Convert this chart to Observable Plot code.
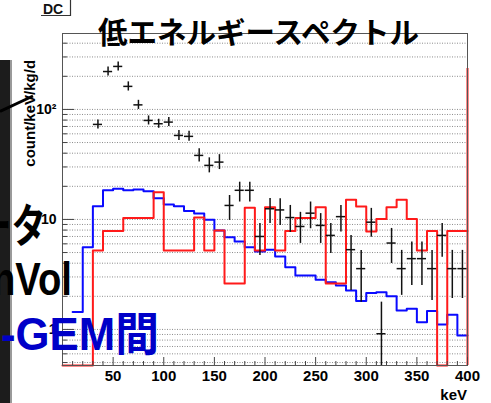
<!DOCTYPE html>
<html>
<head>
<meta charset="utf-8">
<script src="https://cdn.jsdelivr.net/npm/d3@7"></script>
<script src="https://cdn.jsdelivr.net/npm/@observablehq/plot@0.6"></script>
<style>
  html, body { margin: 0; padding: 0; background: #fff; }
  #wrap { position: relative; width: 491px; height: 403px; overflow: hidden; background: #fff; }
  #wrap svg.overlay { position: absolute; left: 0; top: 0; pointer-events: none; }
</style>
</head>
<body>
<div id="wrap"></div>
<script>
// ---- Axes ----
const xDomain = [0, 400];          // keV
const yDomain = [0.47, 490];       // count/keV/kg/d (log)
const xMajorTicks = [50, 100, 150, 200, 250, 300, 350, 400];
const xMinorTicks = [10, 20, 30, 40, 60, 70, 80, 90, 110, 120, 130, 140, 160, 170, 180, 190,
  210, 220, 230, 240, 260, 270, 280, 290, 310, 320, 330, 340, 360, 370, 380, 390];
const yMajorTicks = [1, 10, 100];
const yTickLabels = ["1", "10", "10²"];
const yMinorTicks = [0.5, 0.6, 0.7, 0.8, 0.9, 2, 3, 4, 5, 6, 7, 8, 9,
  20, 30, 40, 50, 60, 70, 80, 90, 200, 300, 400];

// ---- Histogram bins (10 keV wide, lower edges) ----
const binWidth = 10;
const binLow = [0, 10, 20, 30, 40, 50, 60, 70, 80, 90, 100, 110, 120, 130, 140, 150, 160, 170, 180, 190,
  200, 210, 220, 230, 240, 250, 260, 270, 280, 290, 300, 310, 320, 330, 340, 350, 360, 370, 380, 390];

// Simulation (red)
const redCounts = [0, 0, 0, 5.23, 7.83, 7.83, 10.3, 10.3, 10.3, 17.7,
  5.23, 5.23, 5.23, 10.4, 5.23, 7.94, 2.61, 2.61, 12.8, 5.23,
  12.9, 5.23, 7.83, 10.3, 10.3, 12.9, 2.61, 2.61, 15.1, 13.1,
  7.78, 10.1, 12.9, 15.1, 10.1, 5.23, 7.83, 0, 7.83, 7.83];
const redRightEdge = 236;

// Simulation (blue)
const blueCounts = [null, 1.44, 5.6, 13.2, 18.4, 19.0, 18.4, 18.7, 18.0, 15.6,
  13.7, 13.2, 11.9, 11.3, 9.94, 7.94, 6.9, 6.31, 5.6, 5.12,
  5.3, 4.61, 3.68, 3.1, 3.1, 2.83, 2.69, 2.51, 2.26, 1.81,
  2.14, 2.18, 2.0, 1.49, 1.54, 1.16, 1.47, 1.11, 1.36, 0.882];

// ---- Measured spectrum (black, with errors) ----
const dataEnergy = [35, 45, 55, 65, 75, 85, 95, 105, 115, 125, 135, 145, 155,
  165, 175, 185, 195, 205, 215, 225, 235, 245, 255, 265, 275, 285, 295, 305, 315,
  325, 335, 345, 355, 365, 375, 385, 395];
const dataValue = [73.1, 221, 246, 162, 110, 79.4, 74.1, 76.7, 58, 56.9, 38.2, 31, 33.2,
  13.4, 18.4, 18.4, 7.0, 12.5, 12.2, 10.4, 8.63, 11.4, 8.82, 7.16, 10.6, 5.31, 3.57, 9.44, 0.914,
  6.1, 3.57, 4.4, 4.4, 3.57, 7.16, 3.57, 3.57];
const dataLow = [66.5, 201, 224, 147, 100, 72.2, 67.4, 69.8, 52.2, 51.3, 33.3, 26.5, 28.4,
  9.79, 14.4, 14.4, 4.71, 9.2, 8.82, 7.62, 6.05, 8.23, 6.05, 4.91, 7.67, 2.26, 1.77, 6.9, 0,
  3.98, 2.04, 2.51, 2.51, 1.83, 4.54, 1.91, 1.91];
const dataHigh = [80.3, 243, 270, 178, 121, 87.3, 81.4, 84.3, 64.4, 63.2, 43.8, 36.3, 38.8,
  16.5, 21.8, 21.8, 9.2, 15.5, 15.4, 13.4, 11.6, 14.4, 11.3, 9.2, 13.4, 7.16, 5.23, 12.6, 1.77,
  8.28, 5.23, 6.22, 6.22, 5.23, 9.2, 5.23, 5.23];
const xErrHalf = 4.5;

// ---- Build tables ----
const floorY = v => Math.max(v, yDomain[0]);   // empty bins sit on the axis minimum

function steps(counts) {
  const pts = [];
  counts.forEach((c, i) => { if (c != null) pts.push({x: binLow[i], y: floorY(c)}); });
  const lastIdx = counts.length - 1;
  pts.push({x: binLow[lastIdx] + binWidth, y: floorY(counts[lastIdx])});
  return pts;
}
const redSteps = steps(redCounts);
const blueSteps = steps(blueCounts);

const points = dataEnergy.map((e, i) => ({
  e, v: dataValue[i], lo: floorY(dataLow[i]), hi: dataHigh[i]
}));
const gridValues = [...yMinorTicks, ...yMajorTicks];

const chart = Plot.plot({
  width: 491,
  height: 403,
  marginLeft: 62,
  marginRight: 24,
  marginTop: 33,
  marginBottom: 38,
  x: {domain: xDomain},
  y: {type: "log", domain: yDomain},
  style: {
    fontFamily: "'Liberation Sans', Arial, sans-serif",
    fontWeight: "bold",
    color: "#000",
    background: "#fff"
  },
  marks: [
    Plot.gridY(gridValues, {stroke: "#8c8c8c", strokeOpacity: 1, strokeDasharray: "1,1.5", strokeWidth: 1}),
    Plot.line(blueSteps, {x: "x", y: "y", curve: "step-after", stroke: "#0a0aff", strokeWidth: 2}),
    Plot.line(redSteps, {x: "x", y: "y", curve: "step-after", stroke: "#ff1a1a", strokeWidth: 2}),
    Plot.ruleX([xDomain[1]], {y1: yDomain[0], y2: redRightEdge, stroke: "#ff1a1a", strokeWidth: 2}),
    Plot.ruleX(points, {x: "e", y1: "lo", y2: "hi", stroke: "#111", strokeWidth: 1.5}),
    Plot.ruleY(points, {y: "v", x1: d => d.e - xErrHalf, x2: d => d.e + xErrHalf, stroke: "#111", strokeWidth: 1.5}),
    Plot.frame({stroke: "#555"}),
    Plot.axisX(xMinorTicks, {tickSize: -4, text: null, label: null, stroke: "#444"}),
    Plot.axisX(xMajorTicks, {tickSize: -8, text: null, label: null, stroke: "#444"}),
    Plot.axisX(xMajorTicks, {tickSize: 0, tickPadding: 5, fontSize: 15, label: null}),
    Plot.axisY(yMinorTicks, {tickSize: -5, text: null, label: null, stroke: "#444"}),
    Plot.axisY(yMajorTicks, {tickSize: -12, text: null, label: null, stroke: "#444"}),
    Plot.axisY(yMajorTicks, {tickSize: 0, tickPadding: 6, fontSize: 14, label: null,
      tickFormat: d => yTickLabels[yMajorTicks.indexOf(d)]})
  ]
});

const wrap = document.getElementById("wrap");
wrap.appendChild(chart);

// Title, axis titles and the surrounding slide fragments
wrap.insertAdjacentHTML("beforeend", `
<svg class="overlay" width="491" height="403" xmlns="http://www.w3.org/2000/svg">
  <g font-family="'Liberation Sans', Arial, sans-serif" font-weight="bold">
    <text x="43" y="13.5" font-size="14" fill="#111">DC</text>
    <polyline points="41,15.5 70.5,15.5 70.5,0" fill="none" stroke="#333" stroke-width="1.2"/>
    <text x="258.5" y="43" text-anchor="middle" font-size="29.5" fill="#000"
      font-family="'Noto Sans CJK JP', sans-serif">低エネルギースペクトル</text>
    <text transform="translate(35,113.3) rotate(-90)" text-anchor="middle" font-size="15" fill="#000">count/keV/kg/d</text>
    <text x="467" y="400" text-anchor="end" font-size="15" fill="#000">keV</text>
    <rect x="0" y="60" width="10" height="343" fill="#1c1c1c"/>
    <rect x="10" y="60" width="2" height="343" fill="#9a9a9a"/>
    <line x1="0" y1="111.5" x2="33" y2="96" stroke="#000" stroke-width="3"/>
    <text x="46" y="242" text-anchor="end" font-size="46" fill="#000"
      font-family="'Noto Sans CJK JP', sans-serif" textLength="69" lengthAdjust="spacingAndGlyphs">ータ</text>
    <text x="72" y="295" text-anchor="end" font-size="46" fill="#000"
      textLength="80" lengthAdjust="spacingAndGlyphs">nVol</text>
    <text x="1" y="350" font-size="46" fill="#0000c8"
      font-family="'Liberation Sans', 'Noto Sans CJK JP', sans-serif"
      textLength="158" lengthAdjust="spacingAndGlyphs">-GEM間</text>
  </g>
</svg>`);
</script>
</body>
</html>
